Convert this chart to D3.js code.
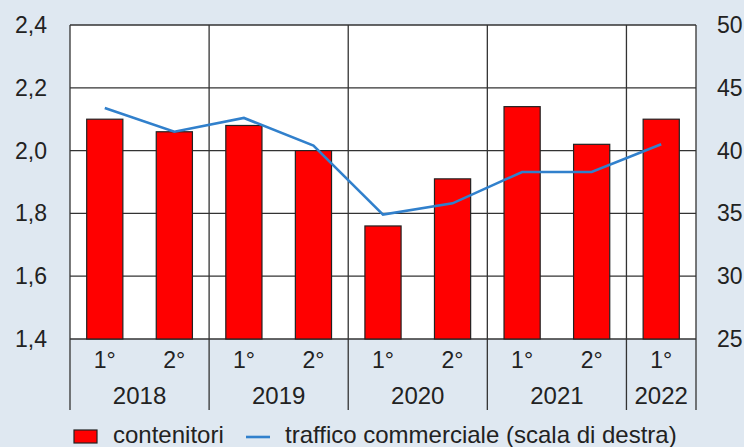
<!DOCTYPE html>
<html>
<head>
<meta charset="utf-8">
<script src="https://d3js.org/d3.v7.min.js"></script>
<style>
  html, body { margin: 0; padding: 0; background: #dfe8f1; }
  svg { display: block; }
  text { font-family: "Liberation Sans", Arial, sans-serif; fill: #222; }
</style>
</head>
<body>
<div id="chart"></div>
<script>
// categories: half-year (semester) within each year
var halves = ["1°", "2°", "1°", "2°", "1°", "2°", "1°", "2°", "1°"];
var years = ["2018", "2019", "2020", "2021", "2022"];
var yearSpans = [2, 2, 2, 2, 1];
// containers, left scale
var contenitori = [2.10, 2.06, 2.08, 2.00, 1.76, 1.91, 2.14, 2.02, 2.10];
// commercial traffic, right scale
var traffico = [43.4, 41.5, 42.6, 40.4, 34.9, 35.8, 38.3, 38.3, 40.5];
var leftTicks = [1.4, 1.6, 1.8, 2.0, 2.2, 2.4];
var rightTicks = [25, 30, 35, 40, 45, 50];

var W = 744, H = 447;
var margin = {top: 25, right: 48, bottom: 108, left: 70};
var width = W - margin.left - margin.right,
    height = H - margin.top - margin.bottom;

var svg = d3.select("#chart").append("svg")
    .attr("width", W)
    .attr("height", H);

var g = svg.append("g")
    .attr("transform", "translate(" + margin.left + "," + margin.top + ")");

var idx = d3.range(halves.length);
var x = d3.scaleBand().domain(idx).range([0, width]).paddingInner(0).paddingOuter(0);
var yL = d3.scaleLinear().domain([1.4, 2.4]).range([height, 0]);
var yR = d3.scaleLinear().domain([25, 50]).range([height, 0]);
var fmt = function(d) { return d3.format(".1f")(d).replace(".", ","); };

// plot area
g.append("rect")
    .attr("width", width).attr("height", height)
    .attr("fill", "#fff");

// horizontal gridlines
g.selectAll(".hgrid")
    .data(leftTicks)
    .enter().append("line")
    .attr("x1", 0).attr("x2", width)
    .attr("y1", function(d) { return yL(d); })
    .attr("y2", function(d) { return yL(d); })
    .attr("stroke", "#333").attr("stroke-width", 1.3);

// year separators (inside plot and below the axis)
var bounds = [0];
yearSpans.reduce(function(acc, s) { bounds.push(acc + s); return acc + s; }, 0);
g.selectAll(".vgrid")
    .data(bounds)
    .enter().append("line")
    .attr("x1", function(d) { return d === halves.length ? width : x(d); })
    .attr("x2", function(d) { return d === halves.length ? width : x(d); })
    .attr("y1", 0).attr("y2", height + 71)
    .attr("stroke", "#333").attr("stroke-width", 1.3);

// bars
var bw = x.bandwidth() * 0.52;
g.selectAll(".bar")
    .data(contenitori)
    .enter().append("rect")
    .attr("x", function(d, i) { return x(i) + x.bandwidth() / 2 - bw / 2; })
    .attr("y", function(d) { return yL(d); })
    .attr("width", bw)
    .attr("height", function(d) { return height - yL(d); })
    .attr("fill", "#ff0000")
    .attr("stroke", "#222").attr("stroke-width", 1.2);

// line
var line = d3.line()
    .x(function(d, i) { return x(i) + x.bandwidth() / 2; })
    .y(function(d) { return yR(d); });
g.append("path")
    .datum(traffico)
    .attr("d", line)
    .attr("fill", "none")
    .attr("stroke", "#3180cc")
    .attr("stroke-width", 2.6);

// left axis labels
g.selectAll(".lt")
    .data(leftTicks)
    .enter().append("text")
    .attr("x", -23)
    .attr("y", function(d) { return yL(d) + 8; })
    .attr("text-anchor", "end")
    .style("font-size", "23px")
    .text(fmt);

// right axis labels
g.selectAll(".rt")
    .data(rightTicks)
    .enter().append("text")
    .attr("x", width + 21)
    .attr("y", function(d) { return yR(d) + 8; })
    .style("font-size", "23px")
    .text(function(d) { return d; });

// half labels
g.selectAll(".hl")
    .data(halves)
    .enter().append("text")
    .attr("x", function(d, i) { return x(i) + x.bandwidth() / 2; })
    .attr("y", height + 29)
    .attr("text-anchor", "middle")
    .style("font-size", "23px")
    .text(function(d) { return d; });

// year labels
g.selectAll(".yl")
    .data(years)
    .enter().append("text")
    .attr("x", function(d, i) {
        var a = x(bounds[i]), b = bounds[i + 1] === halves.length ? width : x(bounds[i + 1]);
        return (a + b) / 2;
    })
    .attr("y", height + 65)
    .attr("text-anchor", "middle")
    .style("font-size", "24px")
    .text(function(d) { return d; });

// legend
var leg = svg.append("g").attr("transform", "translate(0," + (H - 10) + ")");
leg.append("rect")
    .attr("x", 74).attr("y", -7).attr("width", 23).attr("height", 13)
    .attr("fill", "#ff0000").attr("stroke", "#222").attr("stroke-width", 1.2);
leg.append("text")
    .attr("x", 113).attr("y", 6)
    .style("font-size", "24px")
    .text("contenitori");
leg.append("line")
    .attr("x1", 246).attr("x2", 270).attr("y1", 0).attr("y2", 0)
    .attr("stroke", "#3180cc").attr("stroke-width", 2.6);
leg.append("text")
    .attr("x", 285).attr("y", 6)
    .style("font-size", "24px")
    .text("traffico commerciale (scala di destra)");
</script>
</body>
</html>
